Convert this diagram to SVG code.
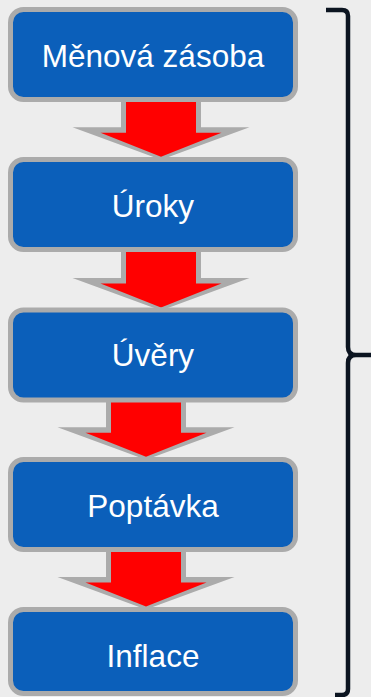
<svg xmlns="http://www.w3.org/2000/svg" width="371" height="697" viewBox="0 0 371 697">
<style>
.box{fill:#0b5fba;stroke:#ababab;stroke-width:5}
.lbl{font-family:"Liberation Sans",Arial,sans-serif;font-size:31.5px;fill:#ffffff;text-anchor:middle}
.ag{fill:#ababab}
.ar{fill:#ff0000}
</style>
<defs>
<g id="arrow">
<polygon class="ag" points="-40,-28 40,-28 40,0 88.5,0 0,32.5 -88.5,0 -40,0"/>
<polygon class="ar" points="-35,-28 35,-28 35,5.4 60.5,5.4 0,29.4 -60.5,5.4 -35,5.4"/>
</g>
</defs>
<rect width="371" height="697" fill="#ededed"/>
<g id="connectors">
<use href="#arrow" transform="translate(161,127.3)"/>
<use href="#arrow" transform="translate(161,278)"/>
<use href="#arrow" transform="translate(146,427.3)"/>
<use href="#arrow" transform="translate(146,577)"/>
</g>
<g id="node1"><rect class="box" x="10.5" y="9.5" width="285" height="90" rx="13"/><text class="lbl" x="153" y="66.7">Měnová zásoba</text></g>
<g id="node2"><rect class="box" x="10.5" y="159.5" width="285" height="90" rx="13"/><text class="lbl" x="153" y="216.7">Úroky</text></g>
<g id="node3"><rect class="box" x="10.5" y="310" width="285" height="90" rx="13"/><text class="lbl" x="153" y="366">Úvěry</text></g>
<g id="node4"><rect class="box" x="10.5" y="459.5" width="285" height="90" rx="13"/><text class="lbl" x="153" y="516.7">Poptávka</text></g>
<g id="node5"><rect class="box" x="10.5" y="609.5" width="285" height="84" rx="13"/><text class="lbl" x="153" y="666.7">Inflace</text></g>
<g id="brace">
<path d="M326,10 H342 Q348,10 348,16 V347 Q348,355 356,355 H371 M356,355 Q348,355 348,363 V689 Q348,695 342,695 H335" fill="none" stroke="#0b1420" stroke-width="4.5"/>
</g>
</svg>
